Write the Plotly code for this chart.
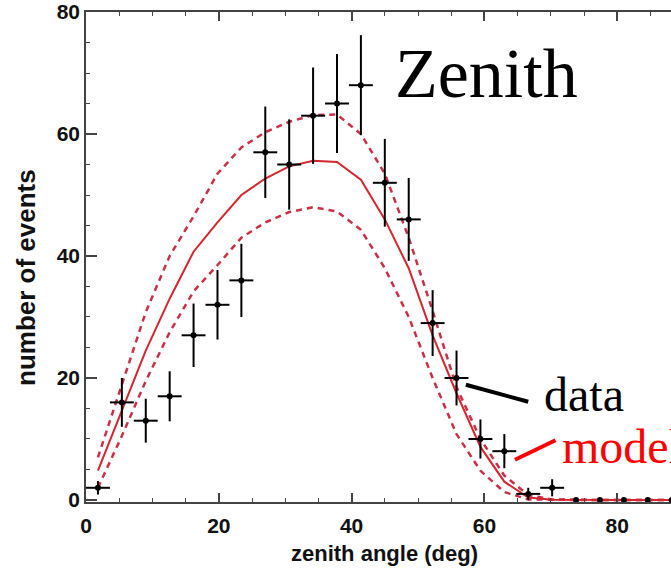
import plotly.graph_objects as go

# ---- data ----
bin_centers = [1.8, 5.4, 9.0, 12.6, 16.2, 19.8, 23.4, 27.0, 30.6, 34.2, 37.8, 41.4,
               45.0, 48.6, 52.2, 55.8, 59.4, 63.0, 66.6, 70.2, 73.8, 77.4, 81.0, 84.6, 88.2]
counts = [2, 16, 13, 17, 27, 32, 36, 57, 55, 63, 65, 68,
          52, 46, 29, 20, 10, 8, 1, 2, 0, 0, 0, 0, 0]
count_err = [1.1, 4.0, 3.6, 4.1, 5.2, 5.7, 6.0, 7.5, 7.4, 7.9, 8.1, 8.2,
             7.2, 6.8, 5.4, 4.5, 3.2, 2.8, 1.0, 1.4, 0, 0, 0, 0, 0]
half_bin = [1.8] * 20 + [0] * 5

model_mid = [4.8, 14.8, 24.5, 33.0, 40.7, 45.5, 50.0, 52.7, 54.7, 55.6, 55.4, 52.5,
             46.0, 38.0, 27.0, 17.5, 8.7, 3.0, 0.4, 0.05, 0, 0, 0, 0, 0]
model_hi = [7.0, 19.0, 30.8, 40.0, 46.5, 53.5, 57.8, 60.3, 62.0, 63.1, 63.2, 60.0,
            53.5, 43.0, 31.0, 18.5, 10.0, 4.0, 0.8, 0.1, 0, 0, 0, 0, 0]
model_lo = [2.0, 10.5, 19.5, 27.5, 34.2, 38.5, 43.0, 45.5, 47.2, 48.0, 47.3, 44.3,
            38.0, 30.0, 20.0, 10.8, 4.8, 1.3, 0.1, 0, 0, 0, 0, 0, 0]

x_ticks = [0, 20, 40, 60, 80]
y_ticks = [0, 20, 40, 60, 80]

RED = "#d3262e"
RED_D = "#c93048"
AX = "#444444"

W, H = 671, 571
ml, mr, mt, mb = 86, 0, 12, 69
pw, ph = W - ml - mr, H - mt - mb

fig = go.Figure()

fig.add_trace(go.Scatter(x=bin_centers, y=model_hi, mode="lines",
                         line=dict(color=RED_D, width=2.5, dash="6px,5px"),
                         showlegend=False, hoverinfo="skip"))
fig.add_trace(go.Scatter(x=bin_centers, y=model_lo, mode="lines",
                         line=dict(color=RED_D, width=2.5, dash="6px,5px"),
                         showlegend=False, hoverinfo="skip"))
fig.add_trace(go.Scatter(x=bin_centers, y=model_mid, mode="lines",
                         line=dict(color=RED, width=2),
                         showlegend=False, hoverinfo="skip"))

fig.add_trace(go.Scatter(
    x=bin_centers, y=counts, mode="markers",
    marker=dict(color="black", size=6),
    error_y=dict(type="data", array=count_err, color="black", thickness=2, width=0),
    error_x=dict(type="data", array=half_bin, color="black", thickness=2, width=0),
    showlegend=False))

# pointer lines for the labels
fig.add_shape(type="line", x0=57.2, y0=18.9, x1=66.6, y1=16.1, xref="x", yref="y",
              line=dict(color="black", width=4))
fig.add_shape(type="line", x0=64.6, y0=6.6, x1=70.7, y1=9.8, xref="x", yref="y",
              line=dict(color="#ff0000", width=4))

serif = "Liberation Serif"
fig.add_annotation(x=46.2, y=70.0, xref="x", yref="y", text="Zenith", showarrow=False,
                   xanchor="left", yanchor="middle",
                   font=dict(family=serif, size=70, color="black"))
fig.add_annotation(x=68.6, y=17.3, xref="x", yref="y", text="data", showarrow=False,
                   xanchor="left", yanchor="middle",
                   font=dict(family=serif, size=48, color="black"))
fig.add_annotation(x=71.4, y=8.8, xref="x", yref="y", text="model", showarrow=False,
                   xanchor="left", yanchor="middle",
                   font=dict(family=serif, size=48, color="#ff0000"))

# axis titles (placed by pixel position, converted to paper coordinates)
sans = "Liberation Sans"
fig.add_annotation(x=(384 - ml) / pw, y=(H - mb - 553) / ph, xref="paper", yref="paper",
                   text="zenith angle (deg)", showarrow=False,
                   xanchor="center", yanchor="middle",
                   font=dict(family=sans, size=22, color="#111", weight="bold"))
fig.add_annotation(x=(26 - ml) / pw, y=(H - mb - 278) / ph, xref="paper", yref="paper",
                   text="number of events", showarrow=False, textangle=-90,
                   xanchor="center", yanchor="middle",
                   font=dict(family=sans, size=26, color="#111", weight="bold"))

fig.update_layout(
    width=W, height=H,
    margin=dict(l=ml, r=mr, t=mt, b=mb, pad=0),
    paper_bgcolor="white", plot_bgcolor="white",
    xaxis=dict(range=[0, 88.1], tickvals=x_ticks, ticks="inside", ticklen=9, tickwidth=1.5,
               tickcolor=AX, showline=True, linecolor=AX, linewidth=1.5, mirror="allticks",
               showgrid=False, zeroline=False, ticklabelstandoff=4,
               tickfont=dict(family=sans, size=21, color="#111", weight="bold"),
               minor=dict(dtick=5, ticks="inside", ticklen=4, tickwidth=1.2, tickcolor=AX,
                          showgrid=False)),
    yaxis=dict(range=[-0.33, 80], tickvals=y_ticks, ticks="inside", ticklen=11, tickwidth=1.5,
               tickcolor=AX, showline=True, linecolor=AX, linewidth=1.5, mirror=False,
               showgrid=False, zeroline=False, ticklabelstandoff=0,
               tickfont=dict(family=sans, size=21, color="#111", weight="bold"),
               minor=dict(dtick=5, ticks="inside", ticklen=4, tickwidth=1.2, tickcolor=AX,
                          showgrid=False)),
)

fig.write_html("out.html")
